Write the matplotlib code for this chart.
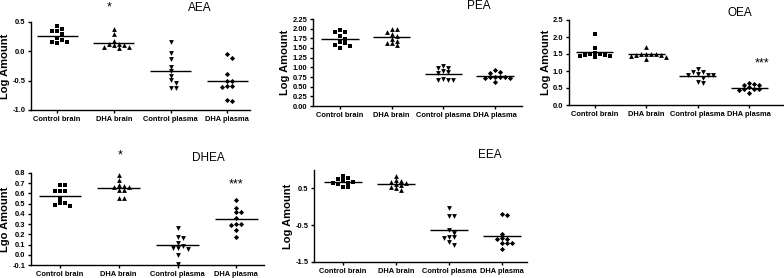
import numpy as np
import matplotlib.pyplot as plt

plt.rcParams['font.family'] = ['Liberation Sans', 'DejaVu Sans']

groups = ['Control brain', 'DHA brain', 'Control plasma', 'DHA plasma']
markers = ['s', '^', 'v', 'D']

# values (log amounts)
aea_ctrl_brain = [0.38, 0.44, 0.35, 0.35, 0.29, 0.22, 0.16, 0.15, 0.16, 0.19]
aea_dha_brain = [0.38, 0.30, 0.18, 0.12, 0.12, 0.11, 0.07, 0.05, 0.07, 0.10]
aea_ctrl_plasma = [0.16, -0.03, -0.13, -0.26, -0.34, -0.42, -0.49, -0.54, -0.63, -0.62]
aea_dha_plasma = [-0.05, -0.11, -0.39, -0.51, -0.51, -0.59, -0.60, -0.59, -0.85, -0.83]

pea_ctrl_brain = [1.96, 1.91, 1.92, 1.80, 1.74, 1.65, 1.63, 1.56, 1.50, 1.58]
pea_dha_brain = [1.98, 1.98, 1.91, 1.85, 1.81, 1.74, 1.69, 1.62, 1.62, 1.58]
pea_ctrl_plasma = [1.04, 0.97, 0.99, 0.86, 0.88, 0.90, 0.68, 0.66, 0.66, 0.70]
pea_dha_plasma = [0.86, 0.93, 0.88, 0.74, 0.73, 0.74, 0.75, 0.76, 0.61, 0.72]

oea_ctrl_brain = [2.10, 1.68, 1.54, 1.50, 1.46, 1.45, 1.41, 1.44, 1.46, 1.50]
oea_dha_brain = [1.70, 1.49, 1.49, 1.50, 1.50, 1.48, 1.48, 1.41, 1.36, 1.45]
oea_ctrl_plasma = [0.98, 1.05, 0.98, 0.90, 0.87, 0.89, 0.87, 0.79, 0.65, 0.68]
oea_dha_plasma = [0.63, 0.60, 0.65, 0.58, 0.46, 0.52, 0.44, 0.46, 0.46, 0.34]

dhea_ctrl_brain = [0.68, 0.68, 0.62, 0.62, 0.62, 0.545, 0.505, 0.48, 0.49, 0.505]
dhea_dha_brain = [0.78, 0.73, 0.68, 0.67, 0.66, 0.66, 0.63, 0.63, 0.56, 0.56]
dhea_ctrl_plasma = [0.26, 0.16, 0.17, 0.12, 0.09, 0.07, 0.06, 0.07, 0.0, -0.09]
dhea_dha_plasma = [0.54, 0.46, 0.42, 0.42, 0.36, 0.30, 0.29, 0.30, 0.24, 0.17]

eea_ctrl_brain = [0.85, 0.75, 0.73, 0.77, 0.66, 0.66, 0.63, 0.55, 0.53, 0.68]
eea_dha_brain = [0.84, 0.73, 0.70, 0.66, 0.68, 0.61, 0.59, 0.47, 0.50, 0.55]
eea_ctrl_plasma = [-0.02, -0.25, -0.25, -0.62, -0.72, -0.83, -0.85, -0.83, -0.95, -1.05]
eea_dha_plasma = [-0.19, -0.22, -0.75, -0.88, -0.86, -0.87, -0.98, -0.98, -0.98, -1.15]

W, H = 784, 278
fig = plt.figure(figsize=(W / 100, H / 100), dpi=100)


def swarm(vals, ppx, ppy, size=5.0):
    # simple beeswarm: spread overlapping points sideways
    vals = np.asarray(vals, dtype=float)
    xs = np.zeros(len(vals))
    placed = []
    for i in np.argsort(-vals):
        y = vals[i]
        for k in range(40):
            step = (k + 1) // 2 * (1 if k % 2 else -1)
            x = step * size / ppx
            if all(abs(x - xp) * ppx >= size or abs(y - yp) * ppy >= size * 0.8
                   for xp, yp in placed):
                break
        xs[i] = x
        placed.append((x, y))
    return xs


def panel(rect, series, xlim, ylim, yticks, ylabel, ytick_fmt):
    left, top, right, bottom = rect
    ax = fig.add_axes([left / W, 1 - bottom / H, (right - left) / W, (bottom - top) / H])
    ppx = (right - left) / (xlim[1] - xlim[0])
    ppy = (bottom - top) / (ylim[1] - ylim[0])
    for i, vals in enumerate(series):
        xs = swarm(vals, ppx, ppy)
        ax.scatter(i + xs, vals, marker=markers[i], s=12 if markers[i] != 'D' else 7,
                   color='black', linewidths=0, clip_on=False, zorder=3)
        ax.hlines(np.mean(vals), i - 0.36, i + 0.36, color='black', lw=1.0, zorder=2)
    ax.set_xlim(*xlim)
    ax.set_ylim(*ylim)
    ax.set_xticks(range(4))
    ax.set_xticklabels(groups, fontsize=5.4, fontweight='bold')
    ax.set_yticks(yticks)
    ax.set_yticklabels([ytick_fmt.format(t) for t in yticks], fontsize=5.4, fontweight='bold')
    ax.set_ylabel(ylabel, fontsize=8, fontweight='bold', labelpad=1.5)
    for s in ['top', 'right']:
        ax.spines[s].set_visible(False)
    for s in ['left', 'bottom']:
        ax.spines[s].set_linewidth(1.0)
    ax.tick_params(axis='both', length=2.5, width=1.0, pad=1.5)
    return ax


ax1 = panel((31, 22, 250, 110), [aea_ctrl_brain, aea_dha_brain, aea_ctrl_plasma, aea_dha_plasma],
            (-0.46, 3.40), (-1.0, 0.5), [-1.0, -0.5, 0.0, 0.5], 'Log Amount', '{:.1f}')
ax2 = panel((313, 19, 522, 106), [pea_ctrl_brain, pea_dha_brain, pea_ctrl_plasma, pea_dha_plasma],
            (-0.52, 3.52), (0, 2.25), np.arange(0, 2.26, 0.25), 'Log Amount', '{:.2f}')
ax3 = panel((569, 20, 783, 105), [oea_ctrl_brain, oea_dha_brain, oea_ctrl_plasma, oea_dha_plasma],
            (-0.5, 3.66), (0, 2.5), np.arange(0, 2.51, 0.5), 'Log Amount', '{:.1f}')
ax4 = panel((31, 173, 264, 265), [dhea_ctrl_brain, dhea_dha_brain, dhea_ctrl_plasma, dhea_dha_plasma],
            (-0.49, 3.47), (-0.1, 0.8), np.round(np.arange(-0.1, 0.81, 0.1), 1), 'Lgo Amount', '{:.1f}')
ax5 = panel((314, 170, 527, 262), [eea_ctrl_brain, eea_dha_brain, eea_ctrl_plasma, eea_dha_plasma],
            (-0.55, 3.47), (-1.5, 1.0), [-1.5, -0.5, 0.5], 'Log Amount', '{:.1f}')

# panel titles and significance stars
fig.text(200 / W, 1 - 8 / H, 'AEA', fontsize=8.5, ha='center', va='center')
fig.text(479 / W, 1 - 6 / H, 'PEA', fontsize=8.5, ha='center', va='center')
fig.text(740 / W, 1 - 13 / H, 'OEA', fontsize=8.5, ha='center', va='center')
fig.text(208 / W, 1 - 158 / H, 'DHEA', fontsize=8.5, ha='center', va='center')
fig.text(490 / W, 1 - 155 / H, 'EEA', fontsize=8.5, ha='center', va='center')

fig.text(109 / W, 1 - 7 / H, '*', fontsize=9, ha='center', va='center')
fig.text(120 / W, 1 - 155 / H, '*', fontsize=9, ha='center', va='center')
fig.text(236 / W, 1 - 184 / H, '***', fontsize=9, ha='center', va='center')
fig.text(762 / W, 1 - 63 / H, '***', fontsize=9, ha='center', va='center')

fig.savefig('out.png', dpi=100)
